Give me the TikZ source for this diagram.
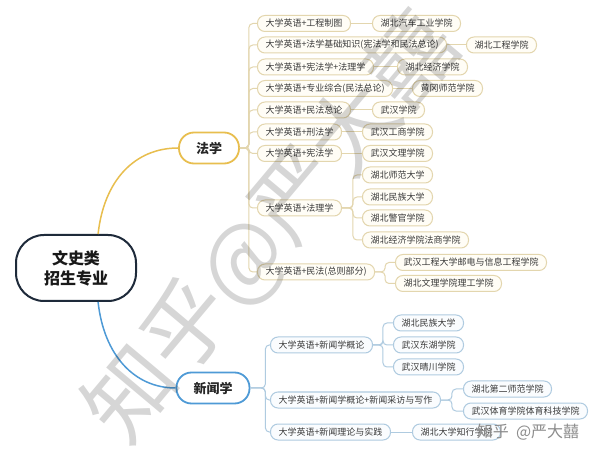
\documentclass[tikz,border=0pt]{standalone}
\usepackage{fontspec}
\setmainfont{Noto Sans CJK SC}
\usetikzlibrary{calc}
\definecolor{lawline}{HTML}{E3D6AE}
\definecolor{lawfill}{HTML}{FFFDF6}
\definecolor{newsline}{HTML}{AFCBE0}
\definecolor{newsfill}{HTML}{FAFCFE}
\definecolor{gold}{HTML}{E8BE4E}
\definecolor{blueb}{HTML}{4E9AD6}
\definecolor{navy}{HTML}{1E2A3A}
\definecolor{txt}{HTML}{3A3A3A}
\begin{document}
\begin{tikzpicture}[x=1pt,y=-1pt,
  lawbox/.style={draw=lawline, fill=lawfill, line width=1pt, rounded corners=7.5pt,
    minimum height=16pt, inner xsep=8pt, inner ysep=0pt,
    font=\fontsize{9}{10}\selectfont, text=txt, anchor=west},
  newsbox/.style={lawbox, draw=newsline, fill=newsfill},
  lawln/.style={draw=lawline, line width=1pt, rounded corners=4pt},
  newsln/.style={draw=newsline, line width=1pt, rounded corners=4pt},
  topic/.style={line width=1.8pt, fill=white, rounded corners=15pt, minimum height=31pt,
    inner xsep=17pt, font=\fontsize{13}{14}\selectfont\bfseries, text=black!85},
]
\useasboundingbox (0,0) rectangle (600,454);
\fill[white] (0,0) rectangle (600,454);

% root and topics
\node[draw=navy, line width=2pt, rounded corners=28pt, minimum width=120pt, minimum height=66pt,
  align=center, font=\fontsize{16}{20}\selectfont\bfseries, text=black!90] (root) at (76,268) {文史类\\招生专业};
\node[topic, draw=gold] (fa) at (209,148) {法学};
\node[topic, draw=blueb] (xw) at (213,388) {新闻学};
\draw[gold, line width=1.5pt] (root.57) .. controls (104,180) and (135,148) .. (fa.west);
\draw[blueb, line width=1.5pt] (root.-57) .. controls (104,356) and (135,388) .. (xw.west);

% law items
\node[lawbox] (l1) at (257,23.5) {大学英语+工程制图};
\node[lawbox] (l2) at (257,45) {大学英语+法学基础知识(宪法学和民法总论)};
\node[lawbox] (l3) at (257,67) {大学英语+宪法学+法理学};
\node[lawbox] (l4) at (257,88.5) {大学英语+专业综合(民法总论)};
\node[lawbox] (l5) at (257,110) {大学英语+民法总论};
\node[lawbox] (l6) at (257,132) {大学英语+刑法学};
\node[lawbox] (l7) at (257,153.5) {大学英语+宪法学};
\node[lawbox] (l8) at (257,208) {大学英语+法理学};
\node[lawbox] (l9) at (257,272) {大学英语+民法(总则部分)};

\node[lawbox] (c1) at (372,23.5) {湖北汽车工业学院};
\node[lawbox] (c2) at (466,45) {湖北工程学院};
\node[lawbox] (c3) at (397,67) {湖北经济学院};
\node[lawbox] (c4) at (412,88.5) {黄冈师范学院};
\node[lawbox] (c5) at (372,110) {武汉学院};
\node[lawbox] (c6) at (362,132) {武汉工商学院};
\node[lawbox] (c7) at (362,153.5) {武汉文理学院};
\node[lawbox] (c8a) at (362,175) {湖北师范大学};
\node[lawbox] (c8b) at (362,197) {湖北民族大学};
\node[lawbox] (c8c) at (362,218) {湖北警官学院};
\node[lawbox] (c8d) at (362,240) {湖北经济学院法商学院};
\node[lawbox] (c9a) at (395,262.5) {武汉工程大学邮电与信息工程学院};
\node[lawbox] (c9b) at (395,283.5) {湖北文理学院理工学院};

\foreach \n in {l1,l2,l3,l4,l5,l6,l7,l8,l9}
  \draw[lawln] (fa.east) -- ++(9,0) |- (\n.west);
\foreach \a/\b in {l1/c1,l2/c2,l3/c3,l4/c4,l5/c5,l6/c6,l7/c7}
  \draw[lawln] (\a.east) -- (\b.west);
\foreach \n in {c8a,c8b,c8c,c8d}
  \draw[lawln] (l8.east) -- ++(11,0) |- (\n.west);
\foreach \n in {c9a,c9b}
  \draw[lawln] (l9.east) -- ++(10,0) |- (\n.west);

% news items
\node[newsbox] (n1) at (270,345) {大学英语+新闻学概论};
\node[newsbox] (n2) at (270,400) {大学英语+新闻学概论+新闻采访与写作};
\node[newsbox] (n3) at (270,432) {大学英语+新闻理论与实践};
\node[newsbox] (d1a) at (393,323) {湖北民族大学};
\node[newsbox] (d1b) at (393,345) {武汉东湖学院};
\node[newsbox] (d1c) at (393,367) {武汉晴川学院};
\node[newsbox] (d2a) at (463,389) {湖北第二师范学院};
\node[newsbox] (d2b) at (463,411) {武汉体育学院体育科技学院};
\node[newsbox] (d3) at (412,432) {湖北大学知行学院};

\foreach \n in {n1,n2,n3}
  \draw[newsln] (xw.east) -- ++(15,0) |- (\n.west);
\foreach \n in {d1a,d1b,d1c}
  \draw[newsln] (n1.east) -- ++(10,0) |- (\n.west);
\foreach \n in {d2a,d2b}
  \draw[newsln] (n2.east) -- ++(11,0) |- (\n.west);
\draw[newsln] (n3.east) -- (d3.west);

% watermarks
\node[rotate=50, text=black, opacity=0.16, font=\fontsize{88}{90}\selectfont] (wm) at (272,228) {知乎@严大囍};
\node[text=black!45, font=\fontsize{16}{18}\selectfont] (wm2) at (528,432) {知乎 \ @严大囍};
\end{tikzpicture}
\end{document}
